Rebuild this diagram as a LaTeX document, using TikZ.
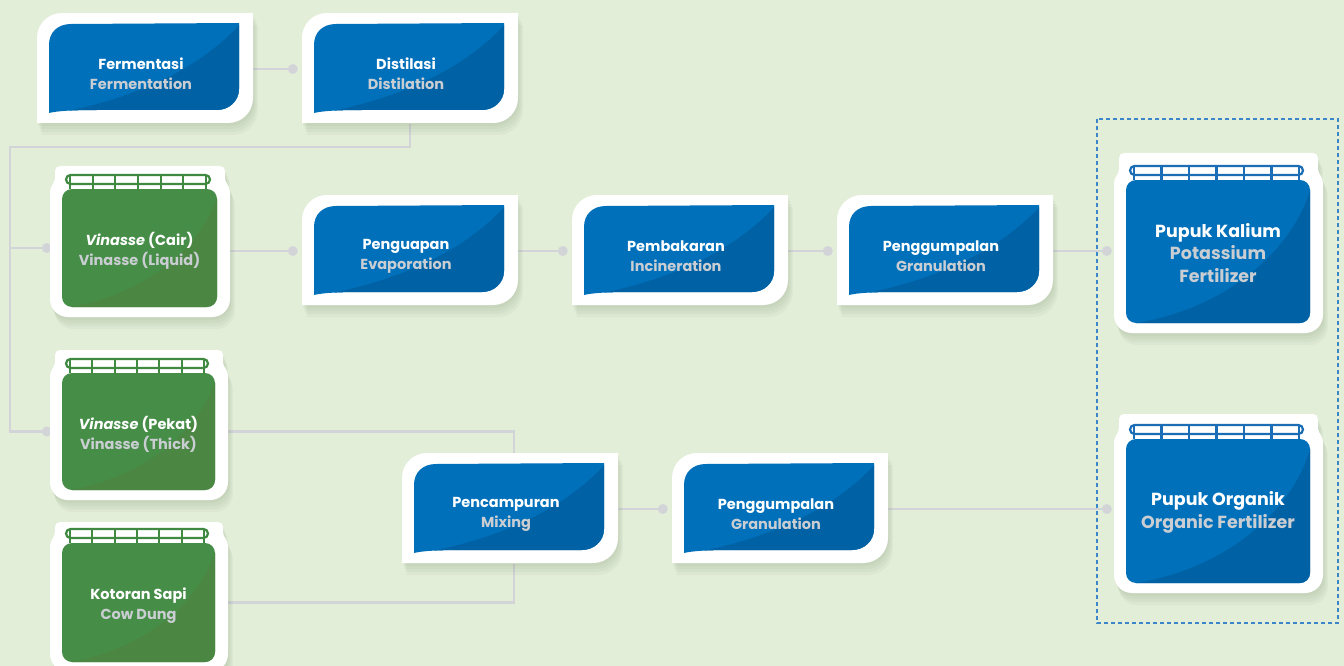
\documentclass[tikz,border=0pt]{standalone}
\usepackage{fontspec}
\setmainfont{Poppins}
\pgfdeclarelayer{back}
\pgfdeclarelayer{bg}
\pgfsetlayers{back,bg,main}
\definecolor{bgc}{HTML}{E2EED8}
\definecolor{lnc}{HTML}{D2D4D8}
\definecolor{bA}{HTML}{0070BA}
\definecolor{bB}{HTML}{0062A4}
\definecolor{bR}{HTML}{1B6DB5}
\definecolor{gA}{HTML}{468D47}
\definecolor{gB}{HTML}{4B8743}
\definecolor{gR}{HTML}{3F8A40}
\definecolor{subc}{HTML}{CACED3}
\definecolor{dashc}{HTML}{3A86C8}
\definecolor{shc}{HTML}{4D5E3C}
\tikzset{
  conn/.style={lnc, line width=2.5pt},
  anchorbox/.style={inner sep=0pt, minimum width=216pt, minimum height=110pt},
  ptext/.style={inner sep=0pt, align=center, text=white, font=\fontsize{14.5}{20}\selectfont\bfseries},
  jtext-g/.style={inner sep=0pt, align=center, text=white, font=\fontsize{14.5}{20}\selectfont\bfseries},
  jtext-b/.style={inner sep=0pt, align=center, text=white, font=\fontsize{17.5}{22.5}\selectfont\bfseries},
  jshift-g/.style={yshift=-3pt},
  jshift-b/.style={yshift=-1.5pt},
}
\newcommand\procouter{(0,110) -- (0,25) .. controls (0,11) and (11,0) .. (25,0) -- (216,0) -- (216,85) .. controls (216,99) and (205,110) .. (191,110) -- cycle}
\newcommand\procinner{(12,100) -- (12,32) .. controls (12,19) and (21,11) .. (34,11) -- (202,10) -- (202,76) .. controls (202,88) and (192,97) .. (180,97) -- (60,97) .. controls (35,97) and (20,98) .. (12,100) -- cycle}
\newcommand\procbox[5]{%
\begin{scope}[shift={(#2,#3)}]
  \foreach \o in {2,4,6,8}{\begin{scope}[shift={(0.6*\o,1.5*\o)}]\fill[shc,opacity=0.045]\procouter;\end{scope}}
  \fill[white]\procouter;
  \begin{scope}
    \clip\procinner;
    \fill[bA] (0,0) rectangle (216,110);
    \fill[bB] (10,102) .. controls (90,88) and (160,60) .. (206,8) -- (216,0) -- (216,110) -- (0,110) -- cycle;
  \end{scope}
  \node[anchorbox] (#1) at (108,56) {};
  \node[ptext] (#1-t) at (104,61) {#4\\\textcolor{subc}{#5}};
\end{scope}}
\newcommand\jar[8]{%
\begin{scope}[shift={(#2,#3)}]
  \pgfmathsetmacro\W{#4}\pgfmathsetmacro\H{#5}\pgfmathsetmacro\T{#6}
  \def\jarpath{(0,\H-18) -- (0,\T+3) .. controls (0,\T-3) and (5,\T-6) .. (5,\T-11) -- (5,5) .. controls (5,2) and (7,0) .. (10,0) -- (\W-10,0) .. controls (\W-7,0) and (\W-5,2) .. (\W-5,5) -- (\W-5,\T-11) .. controls (\W-5,\T-6) and (\W,\T-3) .. (\W,\T+3) -- (\W,\H-18) .. controls (\W,\H-8) and (\W-8,\H) .. (\W-18,\H) -- (18,\H) .. controls (8,\H) and (0,\H-8) .. (0,\H-18) -- cycle}
  \foreach \o in {2,4,6,8}{\begin{scope}[shift={(0.6*\o,1.5*\o)}]\fill[shc,opacity=0.045]\jarpath;\end{scope}}
  \fill[white]\jarpath;
  \begin{scope}
    \clip[rounded corners=10pt] (12,\T) rectangle (\W-13,\H-10);
    \fill[#7A] (0,0) rectangle (\W,\H);
    \fill[#7B] (8,\H-8) .. controls (0.55*\W,\H-20) and (\W-22,0.5*\H) .. (\W-10,\T-2) -- (\W,\T) -- (\W,\H) -- cycle;
  \end{scope}
  \draw[#7R, line width=2.2pt, rounded corners=4.5pt] (16,\T-14) rectangle (\W-20,\T-5);
  \foreach \i in {0,...,6}{\draw[#7R, line width=2.2pt] ({20+\i*(\W-44)/6},\T-14) -- ({20+\i*(\W-44)/6},\T);}
  \node[inner sep=0pt, minimum width={\W-25}, minimum height={\H-10-\T}] (#1) at ({(\W-1)/2},{(\T+\H-10)/2}) {};
  \node[jtext-#7, jshift-#7] (#1-t) at (#1.center) {#8};
\end{scope}}
\begin{document}
\begin{tikzpicture}[x=1pt,y=-1pt]
\useasboundingbox (0,0) rectangle (1344,666);
\begin{pgfonlayer}{back}
  \fill[bgc] (0,0) rectangle (1344,666);
\end{pgfonlayer}
\clip (0,0) rectangle (1344,666);
% process boxes
\procbox{ferm}{37}{13}{Fermentasi}{Fermentation}
\procbox{dist}{302}{13}{Distilasi}{Distilation}
\procbox{peng}{302}{195}{Penguapan}{Evaporation}
\procbox{pemb}{572}{195}{Pembakaran}{Incineration}
\procbox{granA}{837}{195}{Penggumpalan}{Granulation}
\procbox{mix}{402}{453}{Pencampuran}{Mixing}
\procbox{granB}{672}{453}{Penggumpalan}{Granulation}
% jars
\jar{vliq}{50}{166}{180}{151}{23}{g}{\textit{Vinasse} (Cair)\\\textcolor{subc}{Vinasse (Liquid)}}
\jar{vthick}{50}{350}{178}{150}{23}{g}{\textit{Vinasse} (Pekat)\\\textcolor{subc}{Vinasse (Thick)}}
\jar{cow}{50}{522}{178}{150}{21}{g}{Kotoran Sapi\\\textcolor{subc}{Cow Dung}}
\jar{pot}{1114}{153}{209}{180}{27}{b}{Pupuk Kalium\\\textcolor{subc}{Potassium}\\\textcolor{subc}{Fertilizer}}
\jar{org}{1114}{414}{209}{179}{25}{b}{Pupuk Organik\\\textcolor{subc}{Organic Fertilizer}}
% connectors
\begin{pgfonlayer}{bg}
  \coordinate (tl) at (10,147);
  \coordinate (d-dist) at ([xshift=-9pt]dist.west);
  \coordinate (d-peng) at ([xshift=-9pt]peng.west);
  \coordinate (d-pemb) at ([xshift=-9pt]pemb.west);
  \coordinate (d-granA) at ([xshift=-9pt]granA.west);
  \coordinate (d-granB) at ([xshift=-9pt]granB.west);
  \coordinate (d-vliq) at ([xshift=-15pt]vliq.west);
  \coordinate (d-vthick) at ([xshift=-15pt]vthick.west);
  \coordinate (d-pot) at ([xshift=-19pt]pot.west);
  \coordinate (d-org) at (granB.east -| d-pot);
  \draw[conn] (ferm.east) -- (d-dist);
  \draw[conn] (dist.south) |- (tl) -- (tl |- d-vthick) -- (d-vthick);
  \draw[conn] (tl |- d-vliq) -- (d-vliq);
  \draw[conn] (vliq.east |- d-peng) -- (d-peng);
  \draw[conn] (peng.east) -- (d-pemb);
  \draw[conn] (pemb.east) -- (d-granA);
  \draw[conn] (granA.east) -- (granA.east -| d-pot);
  \draw[conn] (vthick.east) -| ([xshift=4pt]mix.north);
  \draw[conn] (cow.east) -| ([xshift=4pt]mix.south);
  \draw[conn] (mix.east) -- (d-granB);
  \draw[conn] (granB.east) -- (d-org);
  \foreach \c in {d-dist,d-peng,d-pemb,d-granA,d-granB,d-vliq,d-vthick,d-org}{\fill[lnc] (\c) circle[radius=5pt];}
  \fill[lnc] (granA.east -| d-pot) circle[radius=5pt];
  \draw[dashc, line width=1.2pt, dash pattern=on 4pt off 3pt] (1097,119) rectangle (1338,623);
\end{pgfonlayer}
\end{tikzpicture}
\end{document}
